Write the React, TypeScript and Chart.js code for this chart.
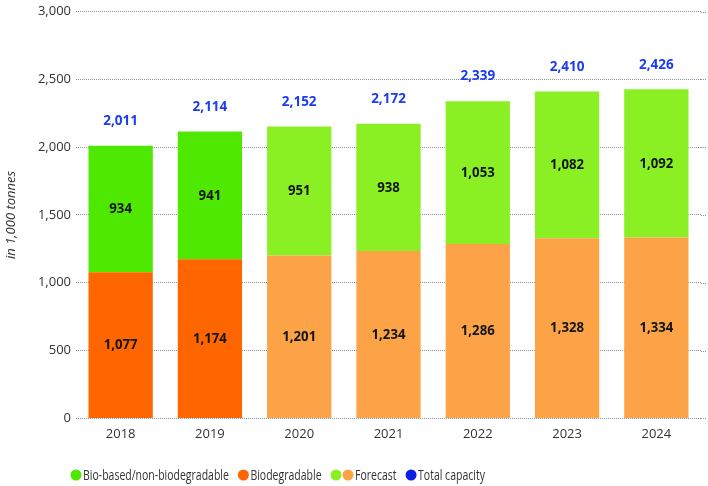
import React, { useEffect, useRef } from "react";
import { Chart, registerables } from "chart.js";

Chart.register(...registerables);

const years = ["2018", "2019", "2020", "2021", "2022", "2023", "2024"];
const biodegradable = [1077, 1174, 1201, 1234, 1286, 1328, 1334];
const bioBased = [934, 941, 951, 938, 1053, 1082, 1092];
const totalCapacity = [2011, 2114, 2152, 2172, 2339, 2410, 2426];
const isForecast = [false, false, true, true, true, true, true];
const legendLabels = ["Bio-based/non-biodegradable", "Biodegradable", "Forecast", "Total capacity"];
const yAxisTitle = "in 1,000 tonnes";

const C_BIOBASED = "#4ee800";
const C_BIOBASED_FC = "#8af024";
const C_BIODEG = "#ff6600";
const C_BIODEG_FC = "#fba346";
const C_TOTAL = "#1b3cf0";
const C_LEGEND_BLUE = "#0b1ee6";
const C_TEXT = "#333333";
const C_GRID = "#8595a3";
const FONT = '"Open Sans", "Noto Sans", sans-serif';

const fmt = (v: number) => v.toLocaleString("en-US");

// draw text horizontally condensed (the original uses a narrow humanist face)
function narrowText(ctx: any, text: string, x: number, y: number, sx: number) {
  ctx.save();
  ctx.translate(x, y);
  ctx.scale(sx, 1);
  ctx.fillText(text, 0, 0);
  ctx.restore();
}

const gridExtendPlugin = {
  id: "gridExtend",
  beforeDatasetsDraw(chart: any) {
    const ctx = chart.ctx;
    const y = chart.scales.y;
    const { right } = chart.chartArea;
    ctx.save();
    ctx.strokeStyle = C_GRID;
    ctx.lineWidth = 1;
    ctx.setLineDash([1, 1]);
    y.ticks.forEach((t: any) => {
      const py = Math.round(y.getPixelForValue(t.value)) + 0.5;
      ctx.beginPath();
      ctx.moveTo(right, py);
      ctx.lineTo(chart.width - 1, py);
      ctx.stroke();
    });
    ctx.restore();
  },
};

const labelPlugin = {
  id: "barLabels",
  afterDatasetsDraw(chart: any) {
    const ctx = chart.ctx;
    const yScale = chart.scales.y;
    ctx.save();
    ctx.textAlign = "center";
    ctx.textBaseline = "middle";
    ctx.font = `bold 15px ${FONT}`;
    chart.data.datasets.forEach((ds: any, di: number) => {
      const meta = chart.getDatasetMeta(di);
      meta.data.forEach((bar: any, i: number) => {
        const p = bar.getProps(["x", "y", "base"], true);
        ctx.fillStyle = "#151515";
        narrowText(ctx, fmt(ds.data[i]), p.x, (p.y + p.base) / 2, 0.88);
      });
    });
    const meta0 = chart.getDatasetMeta(0);
    ctx.fillStyle = C_TOTAL;
    totalCapacity.forEach((t, i) => {
      const x = meta0.data[i].x;
      narrowText(ctx, fmt(t), x, yScale.getPixelForValue(t) - 25, 0.9);
    });
    ctx.restore();
  },
};

const legendPlugin = {
  id: "customLegend",
  afterDraw(chart: any) {
    const ctx = chart.ctx;
    const items = [
      { colors: [C_BIOBASED], text: legendLabels[0] },
      { colors: [C_BIODEG], text: legendLabels[1] },
      { colors: [C_BIOBASED_FC, C_BIODEG_FC], text: legendLabels[2] },
      { colors: [C_LEGEND_BLUE], text: legendLabels[3] },
    ];
    const cy = 475;
    const r = 5.5;
    const sx = 0.7;
    let x = 70.5;
    ctx.save();
    ctx.font = `15px ${FONT}`;
    ctx.textBaseline = "middle";
    ctx.textAlign = "left";
    items.forEach((it) => {
      it.colors.forEach((c, k) => {
        if (k > 0) x += 12;
        ctx.beginPath();
        ctx.arc(x + r, cy, r, 0, Math.PI * 2);
        ctx.fillStyle = c;
        ctx.fill();
      });
      x += 2 * r + 1.5;
      ctx.fillStyle = C_TEXT;
      narrowText(ctx, it.text, x, cy + 0.5, sx);
      x += ctx.measureText(it.text).width * sx + 9;
    });
    ctx.restore();
  },
};

export default function App() {
  const ref = useRef<HTMLCanvasElement | null>(null);
  useEffect(() => {
    if (!ref.current) return;
    const chart = new Chart(ref.current, {
      type: "bar",
      data: {
        labels: years,
        datasets: [
          {
            label: "Biodegradable",
            data: biodegradable,
            backgroundColor: isForecast.map((f) => (f ? C_BIODEG_FC : C_BIODEG)),
            barPercentage: 0.72,
            categoryPercentage: 1,
          },
          {
            label: "Bio-based/non-biodegradable",
            data: bioBased,
            backgroundColor: isForecast.map((f) => (f ? C_BIOBASED_FC : C_BIOBASED)),
            barPercentage: 0.72,
            categoryPercentage: 1,
          },
        ],
      },
      options: {
        responsive: false,
        animation: false,
        layout: { padding: { top: 10, right: 7, bottom: 36, left: 0 } },
        plugins: {
          legend: { display: false },
          tooltip: { enabled: false },
        },
        scales: {
          x: {
            stacked: true,
            grid: { display: false, drawTicks: false },
            border: { display: false },
            ticks: { color: C_TEXT, font: { family: FONT, size: 13 }, padding: 8 },
          },
          y: {
            stacked: true,
            min: 0,
            max: 3000,
            afterFit: (s: any) => {
              s.width = 76;
            },
            ticks: {
              stepSize: 500,
              color: C_TEXT,
              font: { family: FONT, size: 13, lineHeight: 1 },
              padding: 5,
              callback: (v: any) => fmt(Number(v)),
            },
            grid: { color: C_GRID, lineWidth: 1, drawTicks: false },
            border: { display: false, dash: [1, 1] },
            title: {
              display: true,
              text: yAxisTitle,
              color: C_TEXT,
              font: { family: FONT, size: 13, style: "italic" },
              padding: { top: 3, bottom: 0 },
            },
          },
        },
      },
      plugins: [gridExtendPlugin, labelPlugin, legendPlugin],
    });
    return () => chart.destroy();
  }, []);
  return (
    <div style={{ position: "fixed", left: 0, top: 0, width: 708, height: 486, background: "#fff" }}>
      <canvas ref={ref} width={708} height={486} style={{ display: "block" }} />
    </div>
  );
}
